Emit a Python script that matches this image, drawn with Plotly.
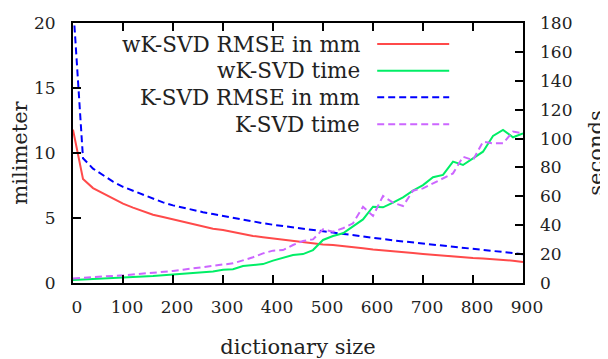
import plotly.graph_objects as go

dict_size = list(range(0, 901, 20))

wksvd_rmse_mm = [11.8, 8.0, 7.3, 6.9, 6.45, 6.1, 5.8, 5.5, 5.25, 5.08, 4.9, 4.7, 4.52, 4.33, 4.18,
                 4.07, 3.92, 3.75, 3.62, 3.52, 3.42, 3.33, 3.24, 3.15, 3.05, 2.97, 2.92, 2.85, 2.75,
                 2.68, 2.58, 2.5, 2.44, 2.37, 2.3, 2.24, 2.17, 2.12, 2.06, 1.95, 1.92, 1.88, 1.84,
                 1.8, 1.72, 1.62]
ksvd_rmse_mm = [21.5, 9.6, 8.8, 8.3, 7.8, 7.4, 7.1, 6.8, 6.5, 6.2, 5.97, 5.78, 5.6, 5.45, 5.3,
                5.15, 5.0, 4.85, 4.72, 4.6, 4.48, 4.37, 4.28, 4.18, 4.08, 3.98, 3.88, 3.78, 3.68,
                3.55, 3.44, 3.36, 3.28, 3.2, 3.12, 3.04, 2.96, 2.88, 2.8, 2.72, 2.64, 2.56, 2.48,
                2.4, 2.32, 2.22]
wksvd_time_s = [2.0, 2.3, 2.7, 3.0, 3.4, 3.7, 4.1, 4.4, 4.8, 5.3, 5.8, 6.3, 6.9, 7.4, 8.0,
                9.2, 9.5, 11.8, 12.3, 13.1, 15.5, 17.5, 19.4, 20.0, 22.8, 29.8, 32.5, 34.4, 39.0,
                44.0, 52.8, 52.4, 55.6, 59.3, 63.9, 67.8, 73.2, 74.8, 84.0, 81.7, 86.3, 90.9,
                101.8, 106.0, 100.9, 103.6]
ksvd_time_s = [3.2, 3.5, 4.0, 4.4, 4.9, 5.3, 5.8, 6.4, 7.0, 7.6, 8.3, 9.2, 10.2, 11.0, 12.0,
               12.8, 13.6, 15.5, 17.8, 20.5, 22.4, 22.8, 26.3, 29.1, 30.2, 37.2, 35.5, 37.9, 41.3,
               52.8, 46.4, 60.2, 55.6, 53.3, 63.9, 65.5, 69.0, 72.5, 75.9, 87.4, 85.1, 97.8, 96.7,
               96.7, 104.8, 103.6]

series_names = ["wK-SVD RMSE in mm", "wK-SVD time", "K-SVD RMSE in mm", "K-SVD time"]
colors = ["#ff4a4a", "#00ee66", "#0000ff", "#cc66ff"]
dashes = ["solid", "solid", "7px,4px", "7px,4px"]

FONT = "DejaVu Serif"
TEXT_COLOR = "#222222"
TICK_SIZE = 17
LABEL_SIZE = 21
LEGEND_SIZE = 21.5

fig = go.Figure()
fig.add_trace(go.Scatter(x=dict_size, y=wksvd_rmse_mm, mode="lines", yaxis="y",
                         line=dict(color=colors[0], width=2, dash=dashes[0])))
fig.add_trace(go.Scatter(x=dict_size, y=wksvd_time_s, mode="lines", yaxis="y2",
                         line=dict(color=colors[1], width=2, dash=dashes[1])))
fig.add_trace(go.Scatter(x=dict_size, y=ksvd_rmse_mm, mode="lines", yaxis="y",
                         line=dict(color=colors[2], width=2, dash=dashes[2])))
fig.add_trace(go.Scatter(x=dict_size, y=ksvd_time_s, mode="lines", yaxis="y2",
                         line=dict(color=colors[3], width=2, dash=dashes[3])))

# manual legend (text right-aligned, sample line on the right)
rows_y = [0.919, 0.816, 0.714, 0.611]
shapes = []
annotations = []
for name, c, d, yy in zip(series_names, colors, dashes, rows_y):
    annotations.append(dict(x=0.642, y=yy, xref="paper", yref="paper", text=name,
                            showarrow=False, xanchor="right", yanchor="middle",
                            font=dict(family=FONT, size=LEGEND_SIZE, color=TEXT_COLOR)))
    shapes.append(dict(type="line", xref="paper", yref="paper", x0=0.676, x1=0.836,
                       y0=yy, y1=yy, line=dict(color=c, width=2, dash=d)))

# the page body has an 8px default margin, so the figure is 8px smaller
fig.update_layout(
    width=600, height=351,
    margin=dict(l=65, r=85, t=15, b=76, autoexpand=False),
    paper_bgcolor="white", plot_bgcolor="white",
    showlegend=False,
    font=dict(family=FONT, size=TICK_SIZE, color=TEXT_COLOR),
    shapes=shapes, annotations=annotations,
    xaxis=dict(range=[0, 900], tickvals=list(range(0, 901, 100)), ticks="inside", ticklen=8,
               tickwidth=1.5, tickcolor="black", showline=True, linecolor="black", linewidth=2,
               mirror="ticks", showgrid=False, zeroline=False, automargin=False,
               tickfont=dict(size=TICK_SIZE),
               title=dict(text="dictionary size", standoff=23, font=dict(size=LABEL_SIZE)),
               ticklabelstandoff=8, ticklabelshift=4),
    yaxis=dict(range=[0, 20], tickvals=[0, 5, 10, 15, 20], ticks="inside", ticklen=8,
               tickwidth=1.5, tickcolor="black", showline=True, linecolor="black", linewidth=2,
               mirror=True, showgrid=False, zeroline=False, automargin=False,
               tickfont=dict(size=TICK_SIZE),
               title=dict(text="milimeter", standoff=6, font=dict(size=LABEL_SIZE)),
               ticklabelstandoff=12),
    yaxis2=dict(range=[0, 180], tickvals=list(range(0, 181, 20)), overlaying="y", side="right",
                ticks="inside", ticklen=8, tickwidth=1.5, tickcolor="black", showline=False,
                showgrid=False, zeroline=False, automargin=False,
                tickfont=dict(size=TICK_SIZE),
                title=dict(text="seconds", standoff=20, font=dict(size=LABEL_SIZE)),
                ticklabelstandoff=16),
)

fig.write_html("out.html")
